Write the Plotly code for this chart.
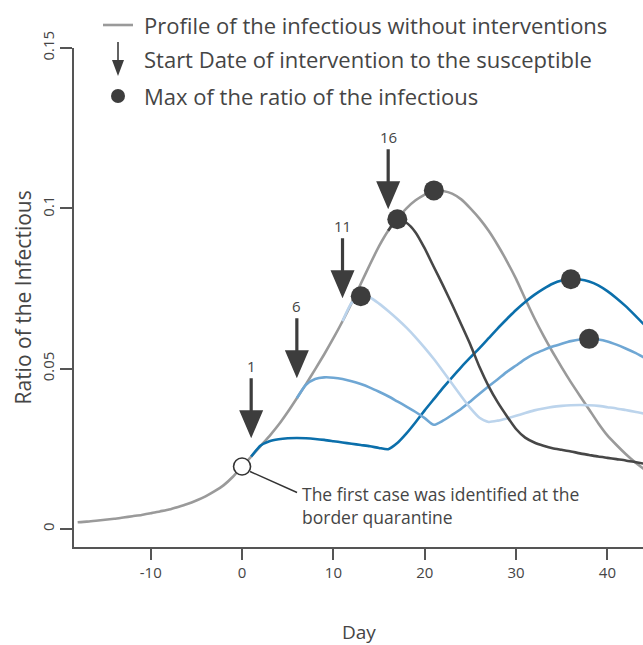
import plotly.graph_objects as go

# ---------------- data ----------------
days_base = list(range(-18, 45))
no_intervention = [
    0.0021, 0.0023, 0.0026, 0.0029, 0.0032, 0.0036, 0.0040, 0.0044, 0.0049, 0.0055,
    0.0061, 0.0069, 0.0078, 0.0089, 0.0102, 0.0118, 0.0137, 0.0163, 0.0195, 0.0226,
    0.0258, 0.0290, 0.0325, 0.0365, 0.0408, 0.0452, 0.0498, 0.0545, 0.0595, 0.0648,
    0.0705, 0.0765, 0.0825, 0.0882, 0.0930, 0.0968, 0.1000, 0.1025, 0.1043, 0.1056,
    0.1054, 0.1046, 0.1028, 0.1000, 0.0968, 0.0930, 0.0885, 0.0835, 0.0780, 0.0718,
    0.0658, 0.0603, 0.0552, 0.0504, 0.0458, 0.0415, 0.0373, 0.0330, 0.0292, 0.0262,
    0.0234, 0.0209, 0.0187,
]

days_int1 = list(range(1, 45))
intervention_day1 = [
    0.0226, 0.0260, 0.0274, 0.0280, 0.0283, 0.0284, 0.0283, 0.0281, 0.0278, 0.0274,
    0.0270, 0.0266, 0.0262, 0.0258, 0.0253, 0.0249, 0.0268, 0.0298, 0.0333, 0.0370,
    0.0405, 0.0440, 0.0473, 0.0505, 0.0535, 0.0564, 0.0595, 0.0626, 0.0655, 0.0683,
    0.0708, 0.0730, 0.0749, 0.0765, 0.0775, 0.0779, 0.0778, 0.0772, 0.0760, 0.0742,
    0.0720, 0.0695, 0.0667, 0.0638,
]

days_int6 = list(range(6, 45))
intervention_day6 = [
    0.0408, 0.0450, 0.0468, 0.0473, 0.0472, 0.0468, 0.0461, 0.0452, 0.0441, 0.0428,
    0.0414, 0.0398, 0.0382, 0.0365, 0.0346, 0.0325, 0.0338, 0.0356, 0.0375, 0.0398,
    0.0422, 0.0445, 0.0467, 0.0490, 0.0510, 0.0530, 0.0546, 0.0558, 0.0569, 0.0578,
    0.0586, 0.0591, 0.0593, 0.0591, 0.0585, 0.0575, 0.0563, 0.0550, 0.0535,
]

days_int11 = list(range(11, 45))
intervention_day11 = [
    0.0648, 0.0705, 0.0726, 0.0722, 0.0703, 0.0680, 0.0655, 0.0628, 0.0598, 0.0565,
    0.0530, 0.0492, 0.0453, 0.0414, 0.0377, 0.0347, 0.0334, 0.0338, 0.0345, 0.0353,
    0.0362, 0.0370, 0.0376, 0.0381, 0.0384, 0.0386, 0.0387, 0.0386, 0.0384, 0.0380,
    0.0376, 0.0371, 0.0366, 0.0360,
]

days_int16 = list(range(16, 45))
intervention_day16 = [
    0.0930, 0.0966, 0.0955, 0.0925, 0.0875, 0.0817, 0.0760, 0.0700, 0.0638, 0.0575,
    0.0505, 0.0445, 0.0395, 0.0352, 0.0312, 0.0285, 0.0270, 0.0260, 0.0252, 0.0247,
    0.0242, 0.0236, 0.0231, 0.0226, 0.0222, 0.0218, 0.0214, 0.0209, 0.0204,
]

arrow_days = [1, 6, 11, 16]
arrow_tip_values = [0.0283, 0.0470, 0.0720, 0.0997]
arrow_labels = ["1", "6", "11", "16"]

first_case_day = 0
first_case_value = 0.0195

x_tickvals = [-10, 0, 10, 20, 30, 40]
x_ticktext = ["-10", "0", "10", "20", "30", "40"]
y_tickvals = [0, 0.05, 0.1, 0.15]
y_ticktext = ["0", "0.05", "0.1", "0.15"]

# ---------------- styling ----------------
FONT = "Open Sans"
TXT = "#454545"
AX = "#555555"
DARK = "#3d3d3d"
GRAY = "#9a9a9a"

fig = go.Figure()

series = [
    (days_base, no_intervention, GRAY),
    (days_int1, intervention_day1, "#0b6fab"),
    (days_int6, intervention_day6, "#6fa7d4"),
    (days_int11, intervention_day11, "#bcd4ec"),
    (days_int16, intervention_day16, "#474747"),
]
for xs, ys, col in series:
    fig.add_trace(go.Scatter(x=xs, y=ys, mode="lines",
                             line=dict(color=col, width=2.6, shape="spline", smoothing=0.6),
                             hoverinfo="skip", showlegend=False))

# max points
mx, my = [], []
for xs, ys, col in series:
    i = max(range(len(ys)), key=lambda k: ys[k])
    mx.append(xs[i])
    my.append(ys[i])
fig.add_trace(go.Scatter(x=mx, y=my, mode="markers",
                         marker=dict(size=20, color=DARK), showlegend=False, hoverinfo="skip"))

# first case open circle
fig.add_trace(go.Scatter(x=[first_case_day], y=[first_case_value], mode="markers",
                         marker=dict(size=17, color="white", line=dict(color="#333333", width=1.6)),
                         showlegend=False, hoverinfo="skip", cliponaxis=False))

shapes = []
annotations = []

# intervention arrows (pixel-size paths anchored at tip)
arrow_path = "M0,0 L-12,28 L-1.6,28 L-1.6,60 L1.6,60 L1.6,28 L12,28 Z"
for d, v, lab in zip(arrow_days, arrow_tip_values, arrow_labels):
    shapes.append(dict(type="path", xref="x", yref="y", xsizemode="pixel", ysizemode="pixel",
                       xanchor=d, yanchor=v, path=arrow_path,
                       fillcolor=DARK, line=dict(color=DARK, width=0)))
    annotations.append(dict(x=d, y=v, xref="x", yref="y", text=lab, showarrow=False,
                            xanchor="center", yanchor="middle",
                            yshift=72, font=dict(family=FONT, size=15, color=TXT)))

# first case leader line and text
shapes.append(dict(type="line", xref="x", yref="y", xsizemode="pixel", ysizemode="pixel",
                   xanchor=first_case_day, yanchor=first_case_value,
                   x0=8, y0=-5, x1=55, y1=-26, line=dict(color="#333333", width=1.4)))
annotations.append(dict(x=first_case_day, y=first_case_value, xref="x", yref="y",
                        text="The first case was identified at the<br>border quarantine",
                        showarrow=False, xanchor="left", yanchor="top", align="left",
                        xshift=58, yshift=-13, font=dict(family=FONT, size=17.5, color=TXT)))

# legend (paper coordinates)
def px2paper_x(px):
    return (px - 74) / 569

def px2paper_y(py):
    return (547 - py) / 499

shapes.append(dict(type="line", xref="paper", yref="paper",
                   x0=px2paper_x(103), x1=px2paper_x(133), y0=px2paper_y(25), y1=px2paper_y(25),
                   line=dict(color=GRAY, width=2.6)))
shapes.append(dict(type="path", xref="paper", yref="paper", xsizemode="pixel", ysizemode="pixel",
                   xanchor=px2paper_x(118), yanchor=px2paper_y(76),
                   path="M0,0 L-6,16 L-0.8,16 L-0.8,34 L0.8,34 L0.8,16 L6,16 Z",
                   fillcolor=DARK, line=dict(color=DARK, width=0)))
shapes.append(dict(type="circle", xref="paper", yref="paper", xsizemode="pixel", ysizemode="pixel",
                   xanchor=px2paper_x(118), yanchor=px2paper_y(96), x0=-7, x1=7, y0=-7, y1=7,
                   fillcolor=DARK, line=dict(color=DARK, width=0)))
for txt, py in [("Profile of the infectious without interventions", 25),
                ("Start Date of intervention to the susceptible", 59),
                ("Max of the ratio of the infectious", 96)]:
    annotations.append(dict(x=px2paper_x(142), y=px2paper_y(py), xref="paper", yref="paper",
                            text=txt, showarrow=False, xanchor="left", yanchor="middle",
                            font=dict(family=FONT, size=22, color=TXT)))

# axis titles
annotations.append(dict(x=0.5, y=px2paper_y(632), xref="paper", yref="paper", text="Day",
                        showarrow=False, xanchor="center", yanchor="middle",
                        font=dict(family=FONT, size=19, color=TXT)))
annotations.append(dict(x=px2paper_x(22), y=0.5, xref="paper", yref="paper",
                        text="Ratio of the Infectious", textangle=-90,
                        xanchor="center", yanchor="middle",
                        showarrow=False, font=dict(family=FONT, size=21, color=TXT)))

fig.update_layout(
    width=643, height=645,
    margin=dict(l=74, r=0, t=48, b=98),
    paper_bgcolor="white", plot_bgcolor="white",
    shapes=shapes, annotations=annotations,
    xaxis=dict(range=[-18.4, 43.9], tickvals=x_tickvals, ticktext=x_ticktext,
               showgrid=False, zeroline=False,
               showline=True, linecolor=AX, linewidth=1.6, ticks="outside", ticklen=11,
               tickwidth=1.6, tickcolor=AX, tickfont=dict(family=FONT, size=15, color=TXT)),
    yaxis=dict(range=[-0.0056, 0.15], tickvals=y_tickvals, ticktext=y_ticktext, tickangle=-90,
               showgrid=False, zeroline=False, showline=True, linecolor=AX, linewidth=1.6,
               ticks="outside", ticklen=12, tickwidth=1.6, tickcolor=AX,
               tickfont=dict(family=FONT, size=15, color=TXT)),
)

fig.write_html("out.html", config={"displayModeBar": False},
               post_script="document.body.style.margin='0';document.body.style.overflow='hidden';")
